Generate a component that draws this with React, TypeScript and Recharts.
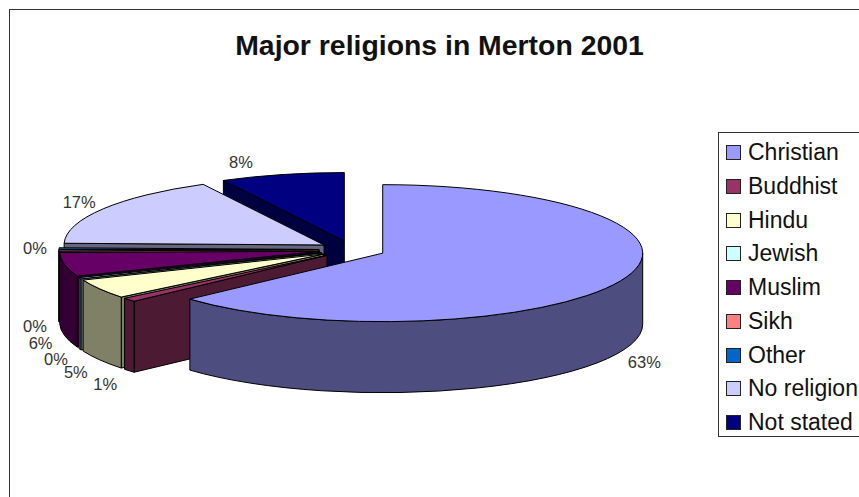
import React from "react";
import { PieChart, Pie, Legend } from "recharts";

// Religion shares for Merton, 2001 (percent of residents).
const categories = ["Christian", "Buddhist", "Hindu", "Jewish", "Muslim", "Sikh", "Other", "No religion", "Not stated"];
const shares = [63.3, 0.9, 4.6, 0.3, 5.6, 0.3, 0.4, 16.9, 7.7];
const faceColours = ["#9999FF", "#993366", "#FFFFCC", "#CCFFFF", "#660066", "#FF8080", "#0066CC", "#CCCCFF", "#000080"];
const wallColours = ["#4D4D80", "#4D1A33", "#808066", "#668080", "#330033", "#804040", "#003366", "#666680", "#000040"];

const FONT = '"Liberation Sans", Arial, sans-serif';

// Projection of the flat pie onto the tilted 3-D disc.
const TILT = 68.5 / 260;
const DEPTH = 71;
const EXPLODE = 0.128;

// Slices are fed far side first so that nearer slices paint over them.
const sliceRows = categories
  .map((name, i) => ({ name, value: shares[i], fill: faceColours[i], wall: wallColours[i] }))
  .reverse();

const rad = (deg: number) => (deg * Math.PI) / 180;

function apexOf(p: any) {
  const r = p.outerRadius;
  return {
    x: p.cx + EXPLODE * r * Math.cos(rad(p.midAngle)),
    y: p.cy - EXPLODE * r * TILT * Math.sin(rad(p.midAngle)),
  };
}

function Slice3D(p: any) {
  const rx = p.outerRadius;
  const ry = rx * TILT;
  const apex = apexOf(p);
  const at = (deg: number) => ({
    x: apex.x + rx * Math.cos(rad(deg)),
    y: apex.y - ry * Math.sin(rad(deg)),
  });
  const a0 = p.startAngle;
  const a1 = p.endAngle;
  const s = at(a0);
  const e = at(a1);
  const large = a1 - a0 > 180 ? 1 : 0;
  const top = `M${apex.x} ${apex.y}L${s.x} ${s.y}A${rx} ${ry} 0 ${large} 0 ${e.x} ${e.y}Z`;

  const wallQuad = (deg: number) => {
    const q = at(deg);
    return `M${apex.x} ${apex.y}L${q.x} ${q.y}L${q.x} ${q.y + DEPTH}L${apex.x} ${apex.y + DEPTH}Z`;
  };

  // Radial cut faces turned towards the viewer.
  const faces: string[] = [];
  const clockOfEnd = (((90 - a1) % 360) + 360) % 360;
  const clockOfStart = (((90 - a0) % 360) + 360) % 360;
  if (clockOfEnd > 180 && clockOfEnd < 360) faces.push(wallQuad(a1));
  if (clockOfStart > 0 && clockOfStart < 180) faces.push(wallQuad(a0));

  // Outer rim, only where it lies on the near half of the disc.
  const lo = Math.max(a0, 180);
  const hi = Math.min(a1, 360);
  let rim: string | null = null;
  if (hi > lo) {
    const p1 = at(lo);
    const p2 = at(hi);
    rim =
      `M${p1.x} ${p1.y}A${rx} ${ry} 0 0 0 ${p2.x} ${p2.y}` +
      `L${p2.x} ${p2.y + DEPTH}A${rx} ${ry} 0 0 1 ${p1.x} ${p1.y + DEPTH}Z`;
  }

  return (
    <g stroke="#000" strokeWidth={1} strokeLinejoin="round">
      {faces.map((d, i) => (
        <path key={i} d={d} fill={p.wall ?? p.payload?.wall} />
      ))}
      {rim && <path d={rim} fill={p.wall ?? p.payload?.wall} />}
      <path d={top} fill={p.fill} />
    </g>
  );
}

const LABEL_SHIFT: Record<string, number> = { "Not stated": -17 };

function PercentLabel(p: any) {
  const rx = p.outerRadius;
  const ry = rx * TILT;
  const apex = apexOf(p);
  const sin = Math.sin(rad(p.midAngle));
  const cos = Math.cos(rad(p.midAngle));
  const x = apex.x + rx * cos + (cos < 0 ? -24 : 24) + (LABEL_SHIFT[p.name] ?? 0);
  const y = apex.y - (ry + 13) * sin + (sin < 0 ? DEPTH + 5 : 0);
  return (
    <text x={x} y={y} textAnchor="middle" dominantBaseline="central" fontFamily={FONT} fontSize={16.5} fill="#333" stroke="none">
      {`${Math.round(p.percent * 100)}%`}
    </text>
  );
}

function ReligionLegend() {
  return (
    <div
      style={{
        position: "absolute",
        left: 718,
        top: 132,
        width: 180,
        height: 305,
        boxSizing: "border-box",
        border: "1.5px solid #333",
        background: "#fff",
        fontFamily: FONT,
        fontSize: 23,
        color: "#111",
      }}
    >
      {categories.map((name, i) => (
        <div
          key={name}
          style={{
            position: "absolute",
            left: 7,
            top: 3 + i * 33.75,
            height: 33,
            display: "flex",
            alignItems: "center",
            whiteSpace: "nowrap",
          }}
        >
          <span
            style={{
              width: 13,
              height: 13,
              marginRight: 7,
              border: "1px solid #222",
              background: faceColours[i],
              display: "inline-block",
            }}
          />
          {name}
        </div>
      ))}
    </div>
  );
}

export default function App() {
  return (
    <div style={{ position: "absolute", left: 0, top: 0, width: 859, height: 497, overflow: "hidden", background: "#fff" }}>
      <div
        style={{
          position: "absolute",
          left: 9,
          top: 9,
          width: 860,
          height: 500,
          borderLeft: "1.5px solid #333",
          borderTop: "1.5px solid #333",
        }}
      />
      <div
        style={{
          position: "absolute",
          left: 0,
          top: 29,
          width: 879,
          textAlign: "center",
          fontFamily: FONT,
          fontWeight: 700,
          fontSize: 28.4,
          color: "#111",
        }}
      >
        Major religions in Merton 2001
      </div>
      <div style={{ position: "absolute", left: 0, top: 0 }}>
        <PieChart width={859} height={497} margin={{ top: 0, right: 0, bottom: 0, left: 0 }}>
          <Pie
            data={sliceRows}
            dataKey="value"
            nameKey="name"
            cx={352.3}
            cy={249.6}
            innerRadius={0}
            outerRadius={260}
            startAngle={90}
            endAngle={450}
            paddingAngle={0}
            stroke="none"
            isAnimationActive={false}
            shape={Slice3D}
            label={PercentLabel}
            labelLine={false}
          />
          <Legend content={ReligionLegend} wrapperStyle={{ position: "absolute", left: 0, top: 0, width: 0, height: 0 }} />
        </PieChart>
      </div>
    </div>
  );
}
